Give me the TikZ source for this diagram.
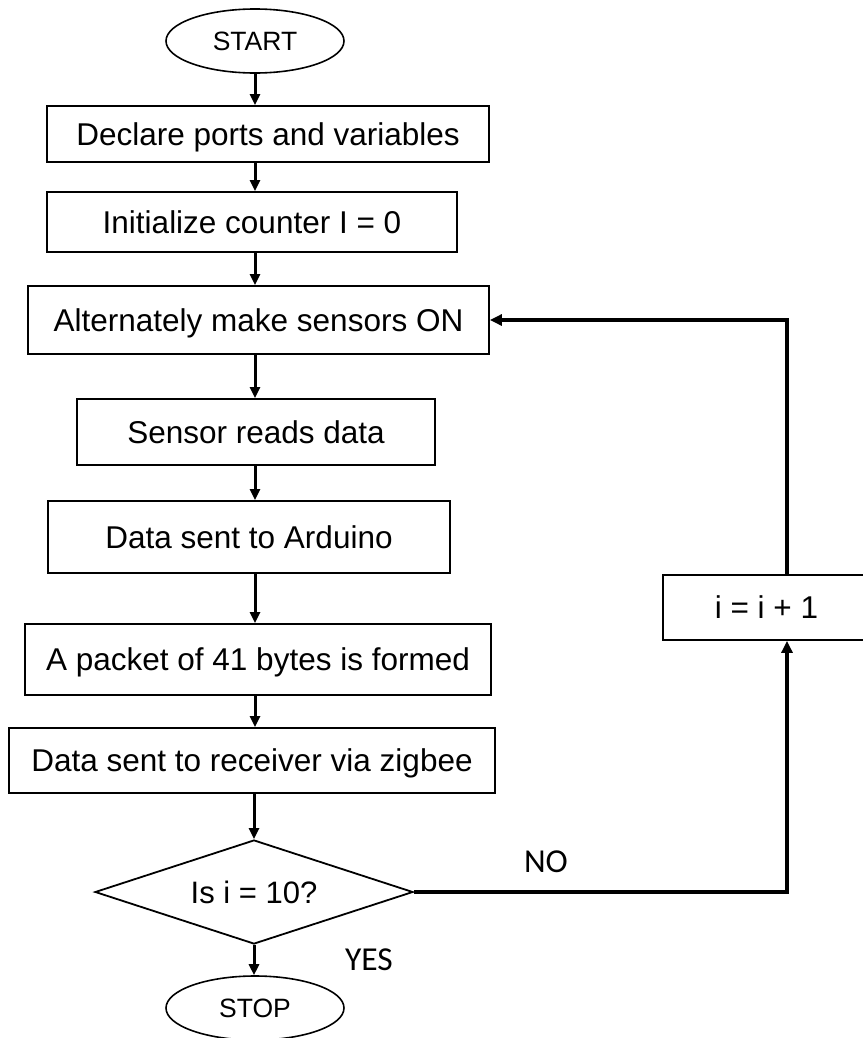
\documentclass[tikz,border=0pt]{standalone}
\usepackage{fontspec}
\setmainfont{Liberation Sans}
\newfontfamily\labelfont{Carlito}
\usetikzlibrary{arrows.meta,shapes.geometric}

\begin{document}
\begin{tikzpicture}[x=1bp,y=-1bp,
  box/.style={draw, line width=1.8bp, rectangle, inner sep=0pt,
    text height=22.6bp, text depth=0pt, font=\fontsize{31.5bp}{38bp}\selectfont},
  term/.style={draw, line width=1.6bp, ellipse, inner sep=0pt,
    minimum width=178bp, minimum height=64bp,
    text height=19bp, text depth=0pt, font=\fontsize{26.5bp}{32bp}\selectfont},
  decision/.style={draw, line width=1.8bp, diamond, inner sep=0pt,
    minimum width=318bp, minimum height=104bp, aspect=3.06,
    text height=22.2bp, text depth=0pt, font=\fontsize{31bp}{37bp}\selectfont},
  flow/.style={line width=3bp, -{Triangle[length=11bp,width=10bp]}},
  backarrow/.style={line width=4bp, -{Triangle[length=12bp,width=11bp]}},
  branch/.style={inner sep=0pt, font=\labelfont\fontsize{33.5bp}{40bp}\selectfont}
]
\useasboundingbox (0,0) rectangle (863,1038);
\clip (0,0) rectangle (863,1038);

% main column
\node[term] (start) at (255,41) {START};
\node[box, minimum width=442bp, minimum height=56bp] (b1) at (268,134) {Declare ports and variables};
\node[box, minimum width=410bp, minimum height=60bp] (b2) at (252,222) {Initialize counter I = 0};
\node[box, minimum width=461bp, minimum height=68bp] (b3) at (258.5,320) {Alternately make sensors ON};
\node[box, minimum width=358bp, minimum height=66bp] (b4) at (256,432) {Sensor reads data};
\node[box, minimum width=402bp, minimum height=72bp] (b5) at (249,537) {Data sent to Arduino};
\node[box, minimum width=466bp, minimum height=71bp] (b6) at (258,659.5) {A packet of 41 bytes is formed};
\node[box, minimum width=486bp, minimum height=65bp] (b7) at (252,760.5) {Data sent to receiver via zigbee};
\node[decision] (dec) at (254,892) {Is i = 10?};
\node[term] (stop) at (255,1008) {STOP};

% loop counter
\node[box, minimum width=207bp, minimum height=65bp] (inc) at (766.5,607.5) {i = i + 1};

% branch labels
\node[branch] (no) at (546,862) {NO};
\node[branch] (yes) at (369,960) {YES};

% connectors
\coordinate (axis) at (255,0);
\coordinate (col) at (787,0);
\draw[flow] (start.south) -- (b1.north -| axis);
\draw[flow] (b1.south -| axis) -- (b2.north -| axis);
\draw[flow] (b2.south -| axis) -- (b3.north -| axis);
\draw[flow] (b3.south -| axis) -- (b4.north -| axis);
\draw[flow] (b4.south -| axis) -- (b5.north -| axis);
\draw[flow] (b5.south -| axis) -- (b6.north -| axis);
\draw[flow] (b6.south -| axis) -- (b7.north -| axis);
\draw[flow] (b7.south -| dec.north) -- (dec.north);
\draw[flow] (dec.south) -- (dec.south |- stop.north);
\draw[backarrow] (dec.east) -- (dec.east -| col) -- (inc.south -| col);
\draw[backarrow] (inc.north -| col) -- (col |- b3.east) -- (b3.east);
\end{tikzpicture}
\end{document}
